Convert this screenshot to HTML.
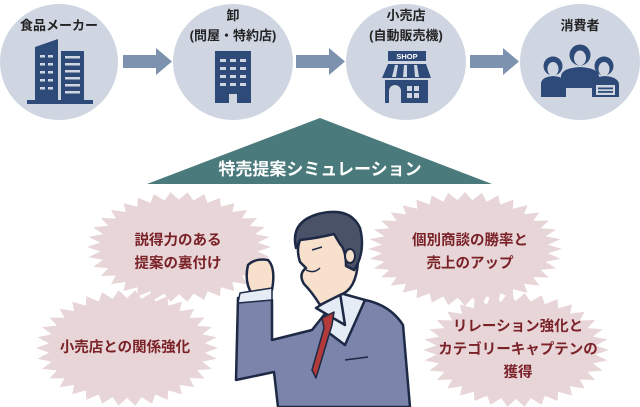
<!DOCTYPE html>
<html><head><meta charset="utf-8"><style>
html,body{margin:0;padding:0;background:#fff;}
body{width:640px;height:407px;overflow:hidden;position:relative;font-family:"Liberation Sans","Noto Sans CJK JP",sans-serif;}
svg{position:absolute;left:0;top:0;}
.t{font-family:"Liberation Sans","Noto Sans CJK JP",sans-serif;font-weight:bold;}
</style></head><body>
<svg id="s" width="640" height="407" viewBox="0 0 640 407">
<g fill="#cfd6e2">
<ellipse cx="59" cy="62" rx="59" ry="58"/>
<ellipse cx="233" cy="62" rx="60" ry="58"/>
<ellipse cx="406" cy="62" rx="60" ry="58"/>
<ellipse cx="580" cy="62" rx="60" ry="58"/>
</g>
<g fill="#7d92ae">
<path d="M123 55H156V48L172 61.5L156 75V68H123Z"/>
<path d="M296 55H329V48L345 61.5L329 75V68H296Z"/>
<path d="M470 55H503V48L519 61.5L503 75V68H470Z"/>
</g>
<g class="t" font-size="13" fill="#222" text-anchor="middle">
<text x="59" y="30">食品メーカー</text>
<text x="233" y="20">卸</text>
<text x="233" y="40">(問屋・特約店)</text>
<text x="406" y="20">小売店</text>
<text x="406" y="40">(自動販売機)</text>
<text x="580" y="30">消費者</text>
</g>
<g fill="#2e4a78">
<rect x="27" y="100" width="66" height="4"/>
<path d="M35 47L58 39V101H35Z"/>
<rect x="61" y="51" width="23" height="50"/>
</g>
<g fill="#cfd6e2">
<rect x="40" y="55" width="5" height="2.5"/><rect x="48" y="55" width="5" height="2.5"/>
<rect x="40" y="63" width="5" height="2.5"/><rect x="48" y="63" width="5" height="2.5"/>
<rect x="40" y="71" width="5" height="2.5"/><rect x="48" y="71" width="5" height="2.5"/>
<rect x="40" y="79" width="5" height="2.5"/><rect x="48" y="79" width="5" height="2.5"/>
<rect x="40" y="87" width="5" height="2.5"/><rect x="48" y="87" width="5" height="2.5"/>
<rect x="65" y="56" width="15" height="2.5"/><rect x="65" y="63" width="15" height="2.5"/>
<rect x="65" y="70" width="15" height="2.5"/><rect x="65" y="77" width="15" height="2.5"/>
<rect x="65" y="84" width="15" height="2.5"/><rect x="65" y="91" width="15" height="2.5"/>
</g>
<rect x="215" y="51" width="36" height="52" fill="#2e4a78"/>
<g fill="#cfd6e2">
<rect x="220" y="59" width="6" height="3"/><rect x="230" y="59" width="6" height="3"/><rect x="240" y="59" width="6" height="3"/>
<rect x="220" y="67" width="6" height="3"/><rect x="230" y="67" width="6" height="3"/><rect x="240" y="67" width="6" height="3"/>
<rect x="220" y="75" width="6" height="3"/><rect x="230" y="75" width="6" height="3"/><rect x="240" y="75" width="6" height="3"/>
<rect x="220" y="83" width="6" height="3"/><rect x="230" y="83" width="6" height="3"/><rect x="240" y="83" width="6" height="3"/>
<rect x="229" y="94" width="8" height="9"/>
</g>
<g fill="#2e4a78">
<rect x="388" y="51" width="38" height="10"/>
<path d="M388 64H426L431 78H382Z"/>
<rect x="385" y="80" width="43" height="23"/>
</g>
<text x="407" y="59" font-size="7.5" font-weight="bold" fill="#fff" text-anchor="middle" font-family="Liberation Sans,sans-serif">SHOP</text>
<g fill="#cfd6e2">
<path d="M395 65H398L396 77H392Z"/><path d="M404 65H407V77H403Z"/><path d="M414 65H417L419 77H415Z"/>
<path d="M389 103V91A6 6 0 0 1 401 91V103Z"/>
<rect x="407" y="86" width="5" height="5"/><rect x="414" y="86" width="5" height="5"/>
<rect x="407" y="93" width="5" height="5"/><rect x="414" y="93" width="5" height="5"/>
</g>
<!-- people -->
<g fill="#2e4a78">
<path d="M541 97V84Q541 77 553 76Q566 77 566 84V97Z"/>
<path d="M561 88V76Q562 68 580 67Q598 68 599 76V88Z"/>
<path d="M592 97V84Q592 77 605 76Q618 77 619 84V97Z"/>
<circle cx="553" cy="66" r="9.5"/>
<circle cx="580" cy="55" r="10.5"/>
<circle cx="604" cy="66" r="9.5"/>
</g>
<g fill="#cfd6e2">
<ellipse cx="553" cy="69" rx="5.5" ry="7"/>
<ellipse cx="580" cy="58" rx="6" ry="7.5"/>
<ellipse cx="604" cy="69" rx="5.5" ry="7"/>
<rect x="596" y="85" width="19" height="10"/>
</g>
<g fill="#2e4a78"><rect x="598" y="87.5" width="15" height="1.8"/><rect x="598" y="91" width="15" height="1.8"/></g>
<path d="M320 118L492 184H147Z" fill="#4a7a7b"/>
<text x="320" y="175" class="t" font-size="17" fill="#fff" text-anchor="middle">特売提案シミュレーション</text>
<g id="bursts" fill="#e7d5d7"></g>
<g class="t" font-size="14.5" fill="#7a2228" text-anchor="middle">
<text x="178" y="245">説得力のある</text>
<text x="178" y="268">提案の裏付け</text>
<text x="470" y="245">個別商談の勝率と</text>
<text x="470" y="268">売上のアップ</text>
<text x="125" y="352">小売店との関係強化</text>
<text x="518" y="331">リレーション強化と</text>
<text x="518" y="354">カテゴリーキャプテンの</text>
<text x="518" y="377">獲得</text>
</g>
<g stroke="#1e2a45" stroke-width="2.5" stroke-linejoin="round">
<path d="M238 298L236 380L274 372L278 407H410L403 325Q390 305 365 300L340 295L312 330L272 340L272 300Z" fill="#7b84ab"/>
<path d="M340 293L365 300L345 345L325 330Z" fill="#e6ecf5"/>
<path d="M316 308L340 293L345 325Z" fill="#e6ecf5"/>
<path d="M322 318L334 312L332 325L316 378L312 370L324 328Z" fill="#b33a3a" stroke-width="1.5"/>
<path d="M300 228Q320 212 350 222Q362 238 358 262Q356 290 340 295L320 305Q312 292 304 284Q298 274 306 268L300 262Q296 250 300 240Z" fill="#f7e0cc"/>
<path d="M296 248Q290 222 318 214Q350 206 360 228Q366 252 354 270L346 266Q346 250 340 244L334 234Q318 238 300 240Z" fill="#4a5268"/>
<ellipse cx="350" cy="256" rx="5" ry="7" fill="#f7e0cc" stroke-width="2"/>
<path d="M248 265Q255 258 268 260Q276 268 272 290L252 294Q244 282 248 265Z" fill="#f7e0cc"/>
<path d="M240 293L272 288L272 300L238 303Z" fill="#e6ecf5" stroke-width="1.5"/>
</g>
<g stroke="#1e2a45" stroke-width="1.5" fill="none">
<path d="M312 250L322 247"/><path d="M306 270Q314 274 320 268"/>
<path d="M345 360L368 357"/>
</g>
</svg>
<script>
function burst(cx,cy,rx,ry,n){var p=[];for(var i=0;i<2*n;i++){var a=Math.PI*i/n;var r=i%2?0.86:1;p.push((cx+rx*r*Math.cos(a)).toFixed(1)+","+(cy+ry*r*Math.sin(a)).toFixed(1));}
var e=document.createElementNS("http://www.w3.org/2000/svg","polygon");e.setAttribute("points",p.join(" "));document.getElementById("bursts").appendChild(e);}
burst(179,247,92,55,34);burst(465,249,97,57,36);burst(127,348,91,58,34);burst(516,350,93,57,34);
</script>
</body></html>
